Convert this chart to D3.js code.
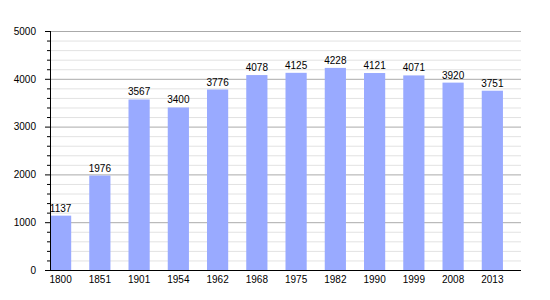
<!DOCTYPE html>
<head>
  <meta charset="utf-8">
  <script src="https://d3js.org/d3.v7.min.js"></script>
  <style>
    body { margin: 0; background: white; }
    text { font-family: "Liberation Sans", Arial, sans-serif; font-size: 10px; fill: black; }
  </style>
</head>
<body>
<script>
const years = ["1800","1851","1901","1954","1962","1968","1975","1982","1990","1999","2008","2013"];
const population = [1137,1976,3567,3400,3776,4078,4125,4228,4121,4071,3920,3751];
const yTicks = [0,1000,2000,3000,4000,5000];

const W = 550, H = 300;
const L = 50, R = 521, T = 31, B = 270;

var svg = d3.select("body").append("svg")
  .attr("width", W)
  .attr("height", H);

var x = d3.scaleBand()
  .domain(years)
  .range([L, R])
  .padding(0);

var y = d3.scaleLinear()
  .domain([0, 5000])
  .range([B, T]);

var barW = x.bandwidth() * 0.54;
var minor = d3.range(200, 5000, 200).filter(v => v % 1000 != 0);

// minor gridlines
svg.append("g").selectAll("line")
  .data(minor)
  .enter().append("line")
  .attr("x1", L).attr("x2", R)
  .attr("y1", d => y(d) + 0.5).attr("y2", d => y(d) + 0.5)
  .attr("stroke", "#e2e2e2");

// major gridlines
svg.append("g").selectAll("line")
  .data(yTicks.slice(1))
  .enter().append("line")
  .attr("x1", L).attr("x2", R)
  .attr("y1", d => y(d) + 0.5).attr("y2", d => y(d) + 0.5)
  .attr("stroke", "#aaaaaa");

// bars
svg.append("g").selectAll("rect")
  .data(population)
  .enter().append("rect")
  .attr("x", (d, i) => x(years[i]))
  .attr("y", d => y(d))
  .attr("width", barW)
  .attr("height", d => B - y(d))
  .attr("fill", "#99aaff");

// value labels
svg.append("g").selectAll("text")
  .data(population)
  .enter().append("text")
  .attr("x", (d, i) => x(years[i]) + barW / 2)
  .attr("y", d => y(d) - 4)
  .attr("text-anchor", "middle")
  .text(d => d);

// y axis
var yaxis = d3.axisLeft(y)
  .tickValues(yTicks)
  .tickSize(5)
  .tickFormat(d3.format("d"));
var yg = svg.append("g")
  .attr("transform", "translate(" + L + ",0)")
  .call(yaxis);
yg.select(".domain").remove();
yg.selectAll("text").style("font-size", "10px").style("font-family", "Liberation Sans, Arial, sans-serif").attr("x", -14);

// minor ticks
svg.append("g").selectAll("line")
  .data(minor)
  .enter().append("line")
  .attr("x1", L - 3).attr("x2", L)
  .attr("y1", d => y(d) + 0.5).attr("y2", d => y(d) + 0.5)
  .attr("stroke", "black");

svg.append("line")
  .attr("x1", L + 0.5).attr("x2", L + 0.5)
  .attr("y1", T).attr("y2", B)
  .attr("stroke", "black");

// x axis
var xg = svg.append("g")
  .attr("transform", "translate(0," + B + ")")
  .call(d3.axisBottom(x).tickSize(0).tickPadding(6));
xg.select(".domain").remove();
xg.selectAll(".tick")
  .attr("transform", d => "translate(" + (x(d) + barW / 2) + ",0)");
xg.selectAll("text").style("font-size", "10px").style("font-family", "Liberation Sans, Arial, sans-serif");

svg.append("line")
  .attr("x1", L).attr("x2", R)
  .attr("y1", B + 0.5).attr("y2", B + 0.5)
  .attr("stroke", "black");
</script>
</body>
